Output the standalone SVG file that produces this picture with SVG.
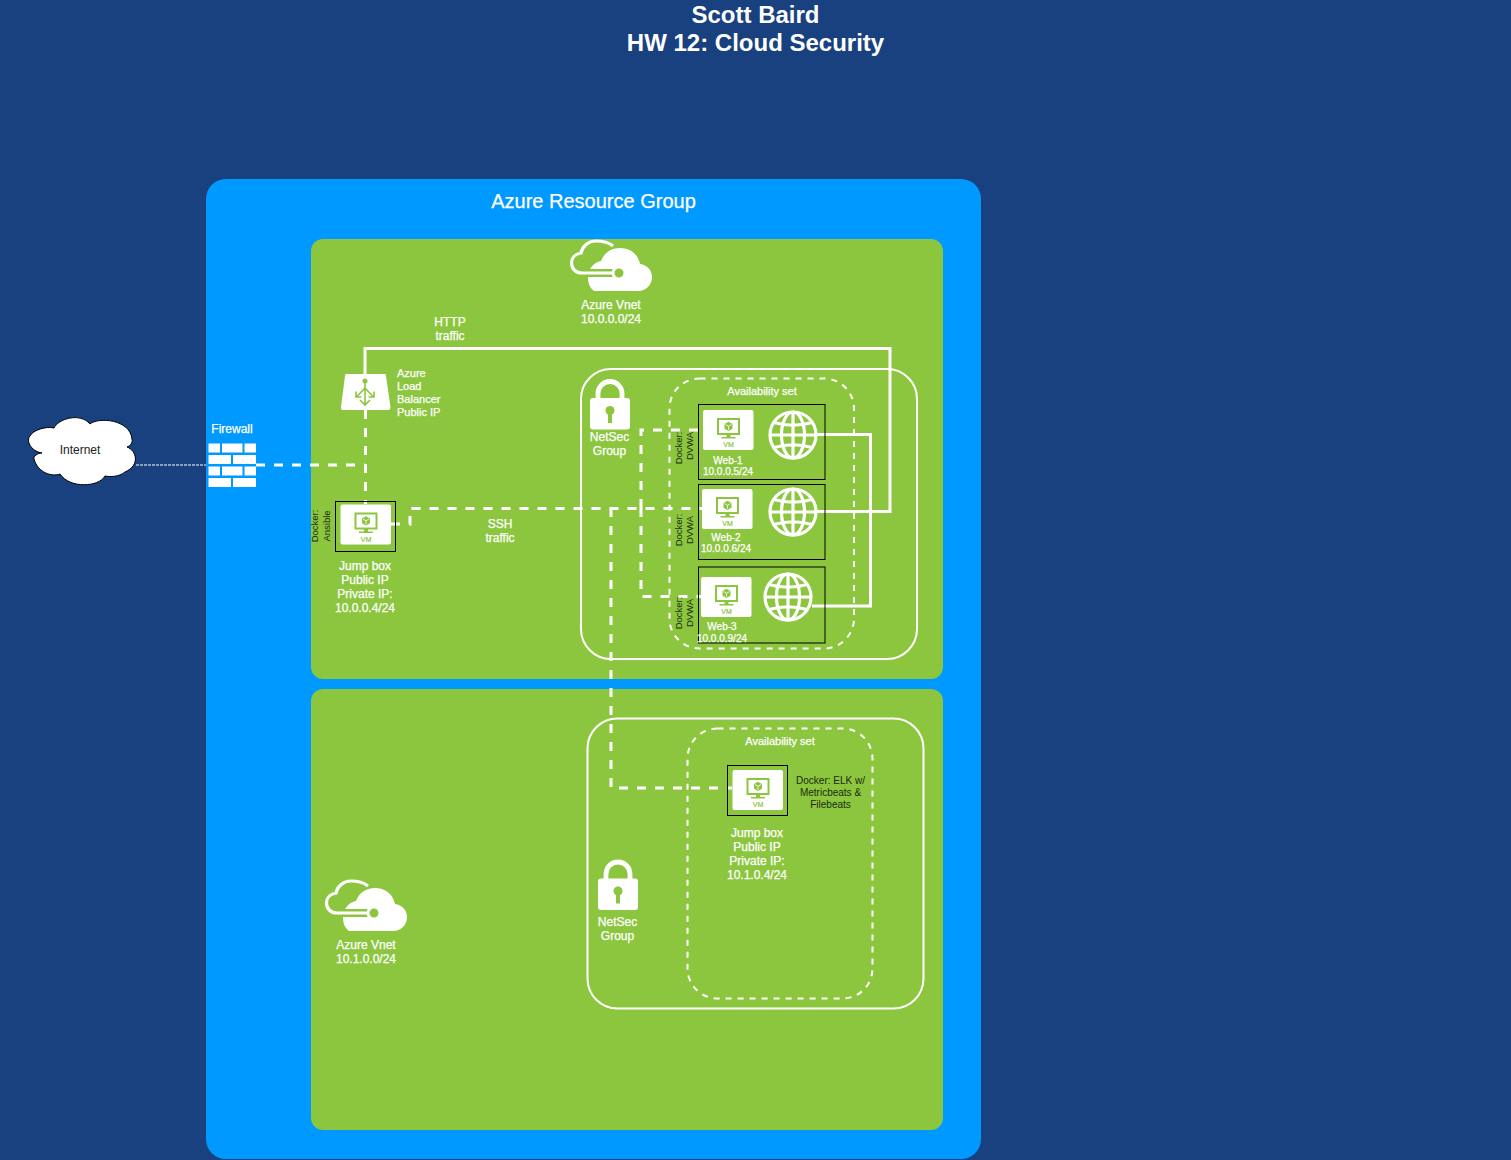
<svg xmlns="http://www.w3.org/2000/svg" width="1511" height="1160" viewBox="0 0 1511 1160">
<style>
text{font-family:"Liberation Sans",Arial,sans-serif;fill:#fff;font-size:12px;text-anchor:middle;stroke:#fff;stroke-width:.25}
.tb{font-weight:bold;font-size:24px;stroke:none}
.s{font-size:11px}.sl{font-size:11px;text-anchor:start}.w{font-size:10px}
.k{fill:#1a2a10;stroke:none;font-size:10px}
.v{fill:#1a2a10;stroke:none;font-size:9.500px}
.line{fill:none;stroke:#fff;stroke-width:3}
.dash{fill:none;stroke:#fff;stroke-width:3;stroke-dasharray:9 9}
.frame{fill:none;stroke:#fff;stroke-width:2}
.aset{fill:none;stroke:#fff;stroke-width:2;stroke-dasharray:6 6}
.box{fill:none;stroke:#000;stroke-width:1}
.ic{fill:none;stroke:#fff;stroke-width:3.200}
</style>
<defs>
<g id="vm">
<rect width="50.500" height="40" rx="2" fill="#fff"/>
<rect x="15" y="9" width="21" height="15" fill="none" stroke="#8cc63f" stroke-width="2"/>
<path d="M25.500 11.800l4 2.300v4.600l-4 2.300-4-2.300v-4.600z" fill="#8cc63f"/>
<path d="M22.500 14.500l3 1.800 3-1.800M25.500 16.300v3.500" fill="none" stroke="#fff" stroke-width=".8"/>
<path d="M23.500 24h4v3h-4zM18.500 27h14v1.500h-14z" fill="#8cc63f"/>
<text x="25.500" y="37" style="font-size:7px;fill:#8cc63f;stroke:#8cc63f;stroke-width:.2">VM</text>
</g>
<g id="globe">
<circle r="23" class="ic"/>
<ellipse rx="11.500" ry="23" class="ic"/>
<path d="M0-23V23M-23 0H23M-19-12.500Q0-7 19-12.500M-19 12.500Q0 7 19 12.500" class="ic"/>
</g>
<g id="lock">
<path d="M8 20V14.500a12 12 0 0 1 24 0V20" fill="none" stroke="#fff" stroke-width="4.800"/>
<rect y="19" width="40" height="31.500" rx="3" fill="#fff"/>
<circle cx="20" cy="31.500" r="4.500" fill="#8cc63f"/>
<rect x="18" y="32" width="4" height="12" fill="#8cc63f"/>
</g>
<g id="vnet">
<path d="M24 52H68C76 52 82 46 82 38C82 31 77 26 70 25C68 15 60 9 50 9C41 9 34 14 31 22C24 23 18 30 18 38C18 45 20 49 24 52Z" fill="#fff"/>
<path d="M6 34H49" fill="none" stroke="#8cc63f" stroke-width="8"/>
<path d="M43 7C38 3 32 2 26 2C18 2 12 8 11 14C5 15 1.500 19 1.500 24C1.500 30 6 34 12 34H49" fill="none" stroke="#fff" stroke-width="3.200"/>
<circle cx="49" cy="34" r="6" fill="#8cc63f" stroke="#fff" stroke-width="3"/>
</g>
</defs>
<rect width="1511" height="1160" fill="#19417f"/>
<rect id="resource-group" x="206" y="179" width="775" height="980" rx="20" fill="#0099ff"/>
<g id="vnet-1-area"><rect x="311" y="239" width="632" height="440" rx="12" fill="#8cc63f"/></g>
<g id="vnet-2-area"><rect x="311" y="689" width="632" height="441" rx="12" fill="#8cc63f"/></g>
<g id="title"><text x="755.500" y="23" class="tb">Scott Baird</text><text x="755.500" y="51" class="tb">HW 12: Cloud Security</text></g>
<text x="593.500" y="208" style="font-size:20px">Azure Resource Group</text>

<g id="netsec-1"><rect x="581" y="369" width="336" height="290" rx="30" class="frame"/><use href="#lock" x="590" y="379"/><text x="609.500" y="441">NetSec</text><text x="609.500" y="455">Group</text></g>
<g id="aset-1"><rect x="669.500" y="378.500" width="184.500" height="270" rx="30" class="aset"/><text x="762" y="395" class="s">Availability set</text></g>
<g id="netsec-2"><rect x="587.500" y="718.500" width="336" height="290" rx="30" class="frame"/><use href="#lock" x="598" y="859.500"/><text x="617.500" y="926">NetSec</text><text x="617.500" y="940">Group</text></g>
<g id="aset-2"><rect x="687.500" y="728.500" width="185" height="270" rx="30" class="aset"/><text x="780" y="745" class="s">Availability set</text></g>

<g id="connectors">
<path class="line" d="M365 376V348.500H890V511.500H817"/>
<path class="line" d="M817 434.500H870.500V606H812"/>
<path class="dash" d="M365.500 410V504"/>
<path class="dash" d="M256 465H365"/>
<path class="dash" d="M391 524H410V508.500H702"/>
<path class="dash" d="M641 508V430H698"/>
<path class="dash" d="M641 508V596.500H701"/>
<path class="dash" d="M611 508V788H732"/>
<path d="M136 465H206" fill="none" stroke="#fff" stroke-width="1" stroke-dasharray="3 1"/>
</g>

<g id="internet"><path transform="translate(2,-1)" d="M52 429C56 420 78 413 88 425C96 418 128 420 130 440C131 444 128 447 125 448C134 451 139 466 123 473C117 478 108 478 103 477C97 488 68 490 58 475C50 478 36 474 32 460C31 457 36 454 40 454C28 452 24 441 28 437C31 431 44 427 52 429Z" fill="#fff" stroke="#000" stroke-width="1"/><text x="80" y="454" style="fill:#222;stroke:none">Internet</text></g>
<g id="firewall"><text x="232" y="433">Firewall</text>
<path fill="#fff" d="M208.500 443.500H220V452.500H208.500zM222 443.500H242.500V452.500H222zM244.500 443.500H256V452.500H244.500zM208.500 455H231V464H208.500zM233 455H256V464H233zM208.500 466.500H220V475.500H208.500zM222 466.500H242.500V475.500H222zM244.500 466.500H256V475.500H244.500zM208.500 478H231V487H208.500zM233 478H256V487H233z"/></g>
<g id="vnet-1"><use href="#vnet" x="570" y="239"/><text x="611" y="309">Azure Vnet</text><text x="611" y="323">10.0.0.0/24</text></g>
<g id="vnet-2"><use href="#vnet" x="325" y="879"/><text x="366" y="949">Azure Vnet</text><text x="366" y="963">10.1.0.0/24</text></g>
<g id="load-balancer"><path d="M346 374H385Q386 374 386 376L390.500 407Q390.500 410 388 410H343Q340.500 410 341 407L345 376Q345 374 346 374Z" fill="#fff"/>
<path d="M365 381V405M365 388L356.500 397M365 388L373.500 397M356 391.500V397H361.500M374 391.500V397H368.500M360 400L365 405L370 400" fill="none" stroke="#8cc63f" stroke-width="1.600"/><circle cx="365" cy="381" r="2.500" fill="#8cc63f"/>
<text x="397" y="377" class="sl">Azure</text><text x="397" y="390" class="sl">Load</text><text x="397" y="403" class="sl">Balancer</text><text x="397" y="416" class="sl">Public IP</text></g>
<text x="450" y="326">HTTP</text><text x="450" y="340">traffic</text>
<text x="500" y="528">SSH</text><text x="500" y="542">traffic</text>
<g id="jump-box"><rect x="335.500" y="501.500" width="60" height="50" class="box"/><use href="#vm" x="340.500" y="504.500"/>
<text transform="translate(318,526) rotate(-90)" class="v">Docker:</text><text transform="translate(330,526) rotate(-90)" class="v">Ansible</text>
<text x="365" y="570">Jump box</text><text x="365" y="584">Public IP</text><text x="365" y="598">Private IP:</text><text x="365" y="612">10.0.0.4/24</text></g>
<g id="web-1"><rect x="698.500" y="404.500" width="126.500" height="75" class="box"/><use href="#vm" x="703" y="410"/><use href="#globe" x="793" y="435"/>
<text x="728" y="464" class="w">Web-1</text><text x="728" y="475" class="w">10.0.0.5/24</text>
<text transform="translate(682,448) rotate(-90)" class="v">Docker:</text><text transform="translate(693,446) rotate(-90)" class="v">DVWA</text></g>
<g id="web-2"><rect x="698.500" y="484.500" width="126.500" height="75" class="box"/><use href="#vm" x="702" y="489"/><use href="#globe" x="793" y="512"/>
<text x="726" y="541" class="w">Web-2</text><text x="726" y="552" class="w">10.0.0.6/24</text>
<text transform="translate(682,530) rotate(-90)" class="v">Docker:</text><text transform="translate(693,530) rotate(-90)" class="v">DVWA</text></g>
<g id="web-3"><rect x="698.500" y="567" width="126.500" height="76" class="box"/><use href="#vm" x="701" y="577"/><use href="#globe" x="788" y="597"/>
<text x="722" y="630" class="w">Web-3</text><text x="722" y="642" class="w">10.0.0.9/24</text>
<text transform="translate(682,613) rotate(-90)" class="v">Docker:</text><text transform="translate(693,613) rotate(-90)" class="v">DVWA</text></g>
<g id="elk"><rect x="727.500" y="765.500" width="60" height="50" class="box"/><use href="#vm" x="732.500" y="770"/>
<text x="830.500" y="784" class="k">Docker: ELK w/</text><text x="830.500" y="796" class="k">Metricbeats &amp;</text><text x="830.500" y="808" class="k">Filebeats</text>
<text x="757" y="837">Jump box</text><text x="757" y="851">Public IP</text><text x="757" y="865">Private IP:</text><text x="757" y="879">10.1.0.4/24</text></g>
</svg>
